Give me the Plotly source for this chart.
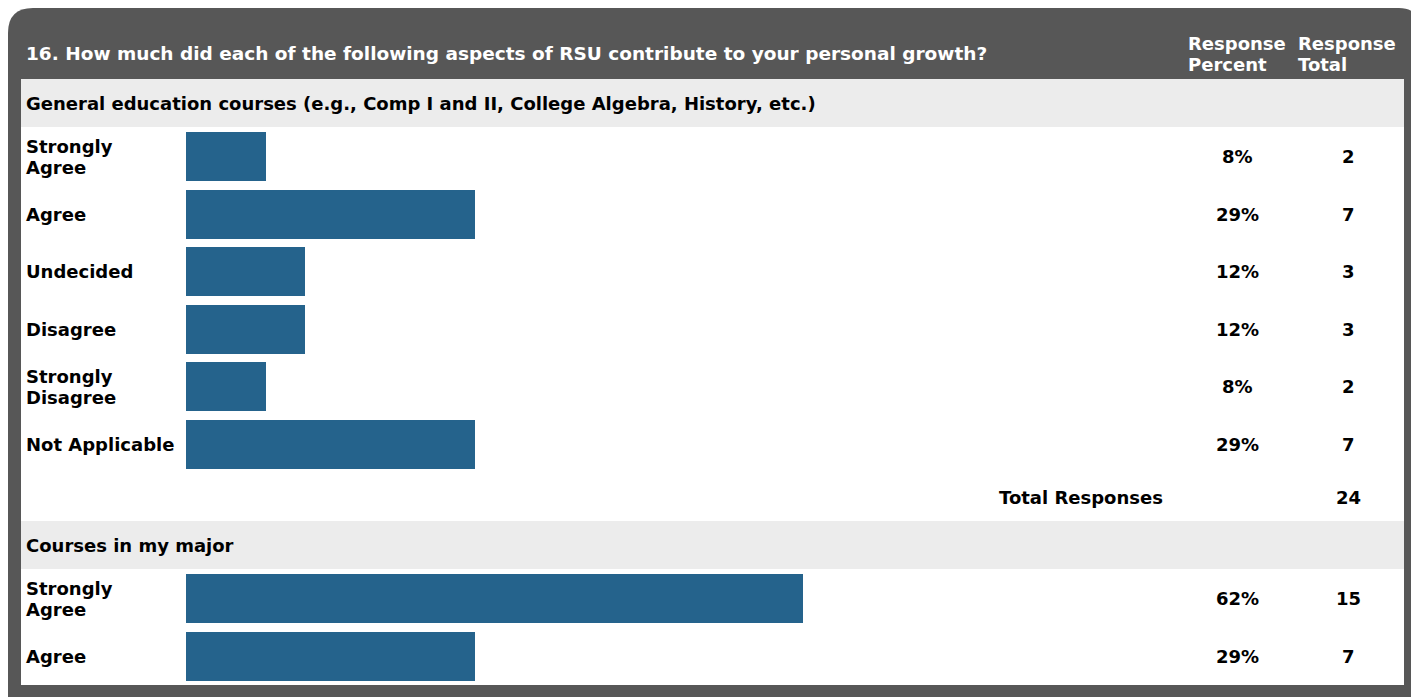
import plotly.graph_objects as go

# ---------------- data ----------------
question = "16. How much did each of the following aspects of RSU contribute to your personal growth?"
col_headers = ["Response<br>Percent", "Response<br>Total"]

section1 = "General education courses (e.g., Comp I and II, College Algebra, History, etc.)"
labels1 = ["Strongly<br>Agree", "Agree", "Undecided", "Disagree", "Strongly<br>Disagree", "Not Applicable"]
pct1 = [8, 29, 12, 12, 8, 29]
tot1 = [2, 7, 3, 3, 2, 7]
total1 = 24

section2 = "Courses in my major"
labels2 = ["Strongly<br>Agree", "Agree"]
pct2 = [62, 29]
tot2 = [15, 7]

# ---------------- layout constants (page pixel coordinates) ----------------
PAGE_W, PAGE_H = 1419, 697
OFF = 8                      # default body margin of the html page
FW, FH = PAGE_W - OFF, PAGE_H - OFF
FRAME = "#575757"
BAND = "#ececec"
BAR = "#25638c"
FONT = "DejaVu Sans"
PX_PER_PCT = 9.95
BAR_X0 = 186
BAR_H = 49
PITCH = 57.5
LABEL_X = 26
PCT_X = 1237
TOT_X = 1348
LINE_GAP = 21

band1_top, band_h = 79, 48
rows1_top = band1_top + band_h + 5
y1 = [rows1_top + i * PITCH + BAR_H / 2 for i in range(len(labels1))]
total_row_y = 497
band2_top = 521
rows2_top = band2_top + band_h + 5
y2 = [rows2_top + i * PITCH + BAR_H / 2 for i in range(len(labels2))]


def px(x):
    return (x - OFF) / FW


fig = go.Figure()
fig.add_trace(go.Bar(x=pct1 + pct2, y=y1 + y2, orientation="h", width=BAR_H,
                     marker=dict(color=BAR, line=dict(width=0)), hoverinfo="skip"))

shapes = []
# frame with rounded top corners
shapes.append(dict(type="path", xref="paper", yref="y", layer="below",
                   path=(f"M {px(OFF)},{PAGE_H} L {px(OFF)},33 Q {px(OFF)},8 {px(33)},8 "
                         f"L {px(1399)},8 Q {px(PAGE_W)},8 {px(PAGE_W)},28 L {px(PAGE_W)},{PAGE_H} Z"),
                   fillcolor=FRAME, line=dict(width=0)))
shapes.append(dict(type="rect", xref="paper", yref="y", layer="below",
                   x0=px(21), x1=px(1404), y0=79, y1=685, fillcolor="white", line=dict(width=0)))
for top in (band1_top, band2_top):
    shapes.append(dict(type="rect", xref="paper", yref="y", layer="below",
                       x0=px(21), x1=px(1404), y0=top, y1=top + band_h, fillcolor=BAND, line=dict(width=0)))

ann = []


def txt(x, y, s, size=18, color="black", xanchor="left"):
    lines = s.split("<br>")
    n = len(lines)
    for i, line in enumerate(lines):
        yy = y + (i - (n - 1) / 2) * LINE_GAP
        ann.append(dict(x=px(x), y=yy, xref="paper", yref="y", text=line, showarrow=False,
                        xanchor=xanchor, yanchor="middle", align="left",
                        borderpad=0, borderwidth=0,
                        font=dict(family=FONT, size=size, color=color, weight="bold")))


txt(LABEL_X, 53, question, size=18.5, color="white")
txt(1188, 53.5, col_headers[0], size=18, color="white")
txt(1298, 53.5, col_headers[1], size=18, color="white")
txt(LABEL_X, band1_top + band_h / 2, section1)
txt(LABEL_X, band2_top + band_h / 2, section2)
for lab, p, t, y in zip(labels1 + labels2, pct1 + pct2, tot1 + tot2, y1 + y2):
    txt(LABEL_X, y, lab)
    txt(PCT_X, y, f"{p}%", xanchor="center")
    txt(TOT_X, y, str(t), xanchor="center")
txt(1163, total_row_y, "Total Responses", xanchor="right")
txt(TOT_X, total_row_y, str(total1), xanchor="center")

fig.update_layout(
    width=FW, height=FH, margin=dict(l=0, r=0, t=0, b=0),
    paper_bgcolor="white", plot_bgcolor="rgba(0,0,0,0)",
    showlegend=False, bargap=0,
    xaxis=dict(domain=[px(BAR_X0), 1], range=[0, (PAGE_W - BAR_X0) / PX_PER_PCT],
               visible=False, fixedrange=True),
    yaxis=dict(domain=[0, 1], range=[PAGE_H, OFF], visible=False, fixedrange=True),
    shapes=shapes, annotations=ann,
)
fig.write_html("out.html", config={"displayModeBar": False})
